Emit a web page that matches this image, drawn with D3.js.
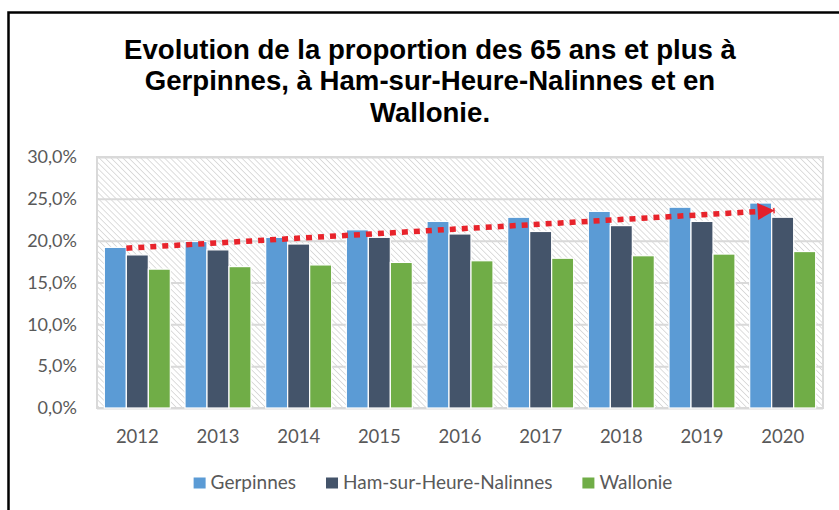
<!DOCTYPE html>
<html>
<head>
<meta charset="utf-8">
<script src="https://cdn.jsdelivr.net/npm/d3@7"></script>
<style>
  html, body { margin: 0; padding: 0; background: #fff; }
  svg { display: block; }
</style>
</head>
<body>
<svg id="chart" width="839" height="510"></svg>
<script>
// ---- data ----
const years = ["2012","2013","2014","2015","2016","2017","2018","2019","2020"];
const seriesNames = ["Gerpinnes","Ham-sur-Heure-Nalinnes","Wallonie"];
const gerpinnes = [19.2, 19.9, 20.4, 21.3, 22.3, 22.8, 23.5, 24.0, 24.5];
const hamSurHeure = [18.3, 18.9, 19.6, 20.4, 20.8, 21.1, 21.8, 22.3, 22.8];
const wallonie = [16.6, 16.9, 17.1, 17.4, 17.6, 17.9, 18.2, 18.4, 18.7];
const yTicks = [0, 5, 10, 15, 20, 25, 30];
const trend = [{year:"2012", value:19.1}, {year:"2020", value:23.6}];
const titleLines = ["Evolution de la proportion des 65 ans et plus à",
                    "Gerpinnes, à Ham-sur-Heure-Nalinnes et en",
                    "Wallonie."];

const colors = {"Gerpinnes":"#5b9bd5","Ham-sur-Heure-Nalinnes":"#44546a","Wallonie":"#70ad47"};
const valuesBySeries = {"Gerpinnes":gerpinnes,"Ham-sur-Heure-Nalinnes":hamSurHeure,"Wallonie":wallonie};

const svg = d3.select("#chart");
const W = 839, H = 510;
const plot = {left: 97, right: 823, top: 157, bottom: 408};
const font = "Lato, 'Open Sans', sans-serif";

// frame
svg.append("rect").attr("x", 8.5).attr("y", 12.5).attr("width", W + 20).attr("height", H + 20)
  .attr("fill", "#fff").attr("stroke", "#000").attr("stroke-width", 2.5);

// pattern
const defs = svg.append("defs");
const pat = defs.append("pattern").attr("id", "hatch").attr("patternUnits", "userSpaceOnUse")
  .attr("width", 4.2).attr("height", 4.2).attr("patternTransform", "rotate(-45)");
pat.append("rect").attr("width", 4.2).attr("height", 4.2).attr("fill", "#fff");
pat.append("line").attr("x1", 0).attr("y1", 0).attr("x2", 0).attr("y2", 4.2)
  .attr("stroke", "#cfcfcf").attr("stroke-width", 1.4);

defs.append("marker").attr("id", "arrow").attr("viewBox", "0 0 10 10")
  .attr("refX", 10).attr("refY", 5).attr("markerUnits", "userSpaceOnUse")
  .attr("markerWidth", 19).attr("markerHeight", 17).attr("orient", "auto")
  .append("path").attr("d", "M0,0 L10,5 L0,10 Z").attr("fill", "#e3202c");

// scales
const x0 = d3.scaleBand().domain(years).range([plot.left, plot.right])
  .paddingInner(0.182).paddingOuter(0.091);
const x1 = d3.scaleBand().domain(seriesNames).range([0, x0.bandwidth()]);
const y = d3.scaleLinear().domain([0, 30]).range([plot.bottom, plot.top]);

// plot background
svg.append("rect").attr("x", plot.left).attr("y", plot.top)
  .attr("width", plot.right - plot.left).attr("height", plot.bottom - plot.top)
  .attr("fill", "url(#hatch)");

// gridlines
svg.append("g").attr("transform", `translate(${plot.left},0)`)
  .call(d3.axisLeft(y).tickValues(yTicks).tickSize(-(plot.right - plot.left)).tickFormat(""))
  .call(g => g.select(".domain").remove())
  .call(g => g.selectAll("line").attr("stroke", "#d9d9d9").attr("stroke-width", 2));

// plot border
svg.append("rect").attr("x", plot.left).attr("y", plot.top)
  .attr("width", plot.right - plot.left).attr("height", plot.bottom - plot.top)
  .attr("fill", "none").attr("stroke", "#d9d9d9").attr("stroke-width", 2);

// y labels
svg.append("g").attr("transform", `translate(77,0)`)
  .call(d3.axisLeft(y).tickValues(yTicks).tickSize(0).tickPadding(0)
    .tickFormat(d => d3.format(".1f")(d).replace(".", ",") + "%"))
  .call(g => g.select(".domain").remove())
  .call(g => g.selectAll("text").attr("fill", "#595959").style("font-family", font).style("font-size", "18px"));

// bars
const groups = svg.append("g").selectAll("g").data(years).join("g")
  .attr("transform", d => `translate(${x0(d)},0)`);
groups.selectAll("rect")
  .data((yr, i) => seriesNames.map(s => ({s, v: valuesBySeries[s][i]})))
  .join("rect")
  .attr("x", d => x1(d.s)).attr("width", x1.bandwidth())
  .attr("y", d => y(d.v)).attr("height", d => y(0) - y(d.v))
  .attr("fill", d => colors[d.s]).attr("stroke", "#fff").attr("stroke-width", 1.2);

// x labels
svg.append("g").attr("transform", `translate(0,${plot.bottom})`)
  .call(d3.axisBottom(x0).tickSize(0).tickPadding(0))
  .call(g => g.select(".domain").remove())
  .call(g => g.selectAll("text").attr("fill", "#595959").attr("dy", null).attr("y", 35)
    .style("font-family", font).style("font-size", "18.5px"));

// trend arrow
const tx = d => x0(d.year) + x1("Ham-sur-Heure-Nalinnes") + (d.year === trend[trend.length-1].year ? 3 : 0);
svg.append("path")
  .attr("d", d3.line().x(tx).y(d => y(d.value))(trend))
  .attr("stroke", "#e8232b").attr("stroke-width", 5.5).attr("stroke-dasharray", "6,6")
  .attr("fill", "none").attr("marker-end", "url(#arrow)");

// title
const title = svg.append("text").attr("text-anchor", "middle")
  .style("font-family", "'Liberation Sans', Arial, sans-serif").style("font-weight", "bold")
  .style("font-size", "27.6px").attr("fill", "#000");
titleLines.forEach((t, i) => {
  title.append("tspan").attr("x", 430).attr("y", 58.5 + i * 31.7).text(t);
});

// legend
const legend = svg.append("g");
const items = legend.selectAll("g").data(seriesNames).join("g");
items.append("rect").attr("width", 12).attr("height", 11).attr("y", -11.5)
  .attr("fill", d => colors[d]);
items.append("text").attr("x", 17).attr("fill", "#595959")
  .style("font-family", font).style("font-size", "19px").text(d => d);
let xpos = 0;
const pos = [];
items.each(function() {
  pos.push(xpos);
  const w = d3.select(this).select("text").node().getComputedTextLength();
  xpos += 17 + w + 30;
});
const total = xpos - 30;
const startX = 433 - total / 2;
items.attr("transform", (d, i) => `translate(${startX + pos[i]},489)`);
</script>
</body>
</html>
